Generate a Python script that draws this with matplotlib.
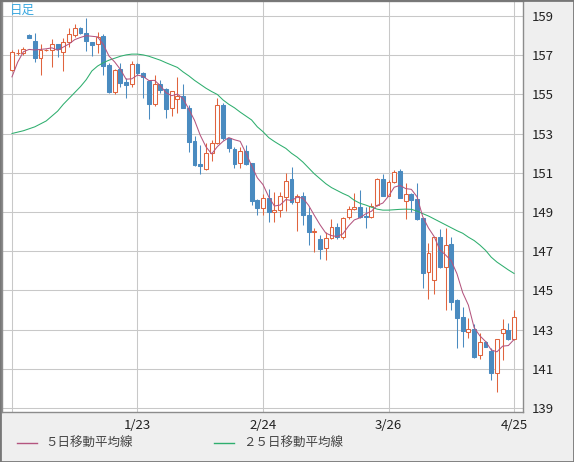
import numpy as np
import matplotlib
matplotlib.use("Agg")
import matplotlib.pyplot as plt
from matplotlib.lines import Line2D
from matplotlib.patches import Rectangle

plt.rcParams['font.family'] = ['Noto Sans CJK JP', 'DejaVu Sans']

# daily candles (USD/JPY style)
opens = [156.24, 157.12, 157.13, 158.05, 157.72, 156.87, 157.27, 157.27, 157.59, 157.15,
         157.66, 158.05, 158.38, 158.15, 157.69, 157.56, 157.98, 156.50, 155.11, 156.28,
         155.65, 155.51, 156.55, 156.11, 155.70, 154.54, 155.53, 155.28, 154.29, 154.75,
         154.92, 154.32, 152.62, 151.45, 151.18, 151.99, 152.50, 154.46, 152.76, 152.20,
         151.48, 152.11, 151.48, 149.61, 149.19, 149.70, 148.98, 149.10, 149.78, 150.68,
         149.49, 149.82, 148.85, 147.98, 147.62, 147.15, 147.69, 148.22, 147.71, 148.73,
         149.14, 149.24, 148.81, 148.73, 149.36, 150.68, 149.83, 150.52, 151.09, 149.58,
         149.92, 149.66, 148.68, 145.92, 145.53, 147.71, 146.21, 147.37, 144.51, 143.67,
         142.90, 143.03, 141.70, 142.35, 141.92, 140.77, 142.81, 142.97, 142.51]
highs = [157.25, 157.30, 157.43, 158.07, 158.12, 157.60, 157.32, 157.85, 157.60, 157.88,
         158.39, 158.59, 158.42, 158.90, 157.70, 158.20, 158.10, 156.59, 156.32, 156.62,
         155.82, 156.70, 156.60, 156.15, 155.75, 155.99, 155.73, 155.32, 155.20, 155.90,
         155.53, 154.46, 152.88, 152.42, 152.50, 152.67, 154.80, 154.55, 152.80, 152.33,
         152.33, 152.42, 151.52, 149.65, 149.90, 150.20, 150.04, 150.04, 150.97, 151.31,
         149.92, 150.04, 149.27, 148.17, 147.83, 148.00, 148.63, 148.42, 148.75, 149.31,
         149.95, 150.12, 149.27, 149.44, 150.72, 150.94, 150.63, 151.14, 151.19, 150.47,
         149.95, 150.47, 148.70, 147.40, 147.71, 148.13, 148.17, 147.71, 144.55, 144.14,
         143.58, 143.29, 142.81, 142.42, 142.05, 142.50, 143.54, 143.35, 144.00]
lows = [156.20, 157.00, 157.00, 157.88, 156.65, 156.00, 157.22, 156.38, 156.90, 156.21,
        157.42, 157.94, 158.10, 157.23, 156.95, 157.12, 156.00, 155.06, 155.00, 155.39,
        154.80, 155.36, 156.00, 154.83, 153.73, 154.41, 155.10, 153.78, 153.90, 154.04,
        154.30, 152.08, 151.35, 150.92, 151.15, 151.60, 152.45, 152.70, 152.08, 151.23,
        151.23, 151.40, 149.36, 148.85, 148.85, 148.50, 148.50, 148.73, 149.07, 149.40,
        148.05, 148.34, 147.33, 146.97, 146.60, 146.55, 147.65, 147.65, 147.65, 148.65,
        149.10, 148.70, 148.17, 148.70, 149.30, 149.80, 149.80, 150.50, 149.70, 148.64,
        148.98, 148.60, 145.12, 144.55, 144.80, 146.15, 144.00, 144.00, 142.05, 142.13,
        142.56, 141.54, 141.50, 142.10, 140.43, 139.83, 141.45, 142.45, 142.45]
closes = [157.16, 157.14, 157.30, 157.90, 156.87, 157.28, 157.28, 157.56, 157.32, 157.66,
          158.08, 158.38, 158.12, 157.74, 157.54, 157.94, 156.46, 155.14, 156.24, 155.60,
          155.48, 156.55, 156.08, 155.90, 154.54, 155.53, 155.22, 154.26, 155.17, 154.92,
          154.32, 152.59, 151.40, 151.36, 151.99, 152.50, 154.46, 152.76, 152.28, 151.45,
          152.11, 151.45, 149.56, 149.19, 149.70, 148.98, 149.10, 149.82, 150.58, 149.49,
          149.82, 148.85, 147.96, 148.02, 147.11, 147.69, 148.22, 147.71, 148.70, 149.14,
          149.24, 148.76, 148.73, 149.32, 150.67, 149.83, 150.52, 151.03, 149.73, 149.90,
          149.61, 148.64, 145.90, 146.89, 147.71, 146.21, 147.32, 144.42, 143.58, 142.92,
          143.03, 141.59, 142.35, 142.13, 140.77, 142.50, 143.03, 142.51, 143.67]

# moving averages as drawn in the chart
ma5 = [155.90, 156.65, 157.18, 157.30, 157.27, 157.30, 157.33, 157.38, 157.26, 157.42,
       157.58, 157.80, 157.91, 158.00, 157.97, 157.94, 157.56, 156.96, 156.66, 156.28,
       155.78, 155.80, 155.99, 155.92, 155.71, 155.72, 155.45, 155.09, 154.94, 155.02,
       154.78, 154.25, 153.68, 152.92, 152.33, 151.97, 152.34, 152.61, 152.80, 152.69,
       152.61, 152.01, 151.37, 150.75, 150.40, 149.78, 149.31, 149.36, 149.64, 149.59,
       149.76, 149.71, 149.34, 148.83, 148.35, 147.93, 147.80, 147.75, 147.89, 148.29,
       148.60, 148.71, 148.91, 149.04, 149.34, 149.46, 149.81, 150.27, 150.36, 150.20,
       150.16, 149.78, 148.76, 148.19, 147.75, 147.07, 146.81, 146.51, 145.85, 144.89,
       144.25, 143.11, 142.69, 142.40, 141.97, 141.87, 142.16, 142.19, 142.50]
ma25 = [153.01, 153.08, 153.15, 153.25, 153.35, 153.50, 153.65, 153.90, 154.15, 154.50,
        154.80, 155.10, 155.40, 155.75, 156.20, 156.45, 156.62, 156.75, 156.85, 156.95,
        157.02, 157.06, 157.06, 157.02, 156.95, 156.85, 156.75, 156.62, 156.50, 156.38,
        156.15, 155.95, 155.72, 155.52, 155.32, 155.15, 155.00, 154.72, 154.50, 154.32,
        154.10, 153.90, 153.70, 153.35, 153.10, 152.80, 152.60, 152.42, 152.25, 152.00,
        151.80, 151.55, 151.25, 150.95, 150.70, 150.45, 150.25, 150.10, 149.95, 149.82,
        149.60, 149.45, 149.36, 149.25, 149.15, 149.10, 149.10, 149.12, 149.14, 149.15,
        149.14, 149.05, 148.92, 148.80, 148.65, 148.50, 148.35, 148.20, 148.05, 147.92,
        147.72, 147.55, 147.32, 147.05, 146.70, 146.45, 146.25, 146.05, 145.87]

tick_idx = [22, 44, 66, 88]
tick_labels = ['1/23', '2/24', '3/26', '4/25']
price_ticks = [139, 141, 143, 145, 147, 149, 151, 153, 155, 157, 159]

up_col = '#e0643e'
down_col = '#4a8bc0'
ma5_col = '#b4557f'
ma25_col = '#2eae6e'
lw = 0.75  # about one pixel

W, H = 574, 462
fig = plt.figure(figsize=(W / 100, H / 100), dpi=100, facecolor='#efefef')
ax = fig.add_axes([2 / W, 1 - 412 / H, 521 / W, 411 / H])
ax.set_facecolor('white')

x = np.arange(len(closes))
o = np.array(opens)
c = np.array(closes)
hi = np.array(highs)
lo = np.array(lows)
top = np.maximum(o, c)
bot = np.minimum(o, c)
up = c >= o

# grid
for p in price_ticks:
    ax.axhline(p, color='#c8c8c8', lw=lw, zorder=0)
for t in [0] + tick_idx:
    ax.axvline(t, color='#c8c8c8', lw=lw, zorder=0)

# wicks (kept outside the body so hollow candles stay white inside)
cols = [up_col if u else down_col for u in up]
ax.vlines(x, top, hi, colors=cols, lw=lw, zorder=2)
ax.vlines(x, lo, bot, colors=cols, lw=lw, zorder=2)

# bodies
bw = 0.68
ax.bar(x[up], np.maximum(top - bot, 0.01)[up], bottom=bot[up], width=bw,
       facecolor='white', edgecolor=up_col, linewidth=lw, zorder=3)
ax.bar(x[~up], np.maximum(top - bot, 0.01)[~up], bottom=bot[~up], width=bw,
       facecolor=down_col, edgecolor=down_col, linewidth=lw, zorder=3)

ax.plot(x, ma25, color=ma25_col, lw=lw, zorder=4)
ax.plot(x, ma5, color=ma5_col, lw=lw, zorder=4)

ax.set_xlim(-1.75, 89.57)
ax.set_ylim(138.8, 159.77)
ax.yaxis.tick_right()
ax.set_yticks(price_ticks)
ax.set_xticks(tick_idx)
ax.set_xticklabels(tick_labels)
ax.tick_params(length=0, labelsize=9.5, colors='#222222')
ax.tick_params(axis='y', pad=6)
ax.tick_params(axis='x', pad=5)
for s in ax.spines.values():
    s.set_color('#8c8c8c')
    s.set_linewidth(1)

ax.text(0.016, 0.993, '日足', transform=ax.transAxes, ha='left', va='top',
        fontsize=9, color='#3aa8e0')

# legend drawn at the bottom
def px(xp, yp):
    return xp / W, 1 - yp / H

fig.add_artist(Line2D([px(17, 0)[0], px(37, 0)[0]], [px(0, 443)[1]] * 2,
                      color=ma5_col, lw=1))
fig.text(*px(45, 443), '５日移動平均線', ha='left', va='center', fontsize=9, color='#444444')
fig.add_artist(Line2D([px(214, 0)[0], px(234, 0)[0]], [px(0, 443)[1]] * 2,
                      color=ma25_col, lw=1))
fig.text(*px(243, 443), '２５日移動平均線', ha='left', va='center', fontsize=9, color='#444444')

# outer frame
fig.add_artist(Rectangle((0, 0), 1, 1, transform=fig.transFigure, fill=False,
                         edgecolor='#777777', lw=2))

fig.savefig('out.png', dpi=100, facecolor=fig.get_facecolor())
